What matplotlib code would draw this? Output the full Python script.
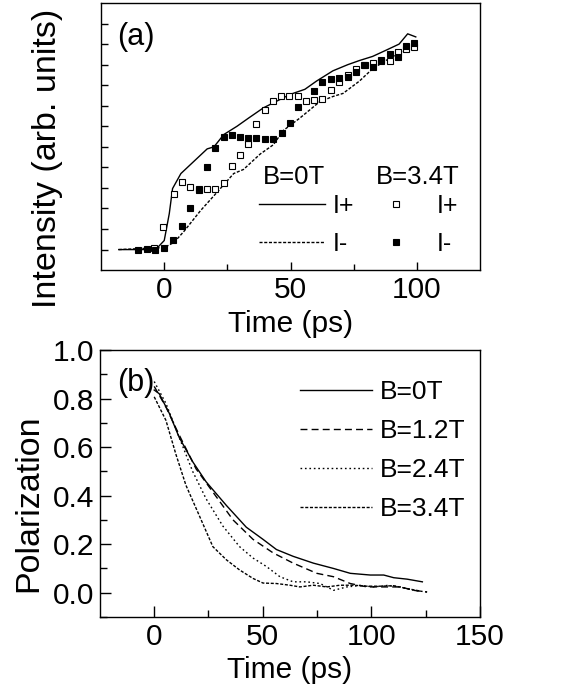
import numpy as np
import matplotlib
matplotlib.use("Agg")
import matplotlib.pyplot as plt
from matplotlib.lines import Line2D

plt.rcParams['font.family'] = ['Liberation Sans', 'DejaVu Sans']

# ------------------------------------------------------------------ #
#  Donnees panneau (a) : intensite, B=0T (lignes) et B=3.4T (carres)   #
# ------------------------------------------------------------------ #
t_plus_0T = [-18, -3.4, 0, 2, 3.3, 6.6, 11.8, 17, 19.7, 23.6, 28.8, 33.4, 39.3,
             45.8, 49.8, 55.7, 60.3, 66.8, 72.7, 77.3, 82.5, 87.8, 93, 96.4, 99.6]
i_plus_0T = [0, 0, 0.44, 1.75, 2.97, 3.7, 4.3, 4.9, 5.0, 5.6, 6.0, 6.4, 6.9,
             7.3, 7.55, 7.8, 8.2, 8.7, 9.0, 9.2, 9.4, 9.7, 10.0, 10.5, 10.35]

t_minus_0T = [-18, 0, 3.9, 7.9, 14.4, 21, 27.5, 31.4, 38, 43.2, 47.2, 53.7,
              61.6, 66.8, 70.8, 77.3, 82.5, 89.1, 94.3, 99.6]
i_minus_0T = [0, 0.1, 0.35, 0.9, 1.9, 2.8, 3.7, 3.9, 4.65, 5.1, 5.8, 6.4,
              7.2, 7.45, 7.6, 8.2, 8.8, 9.3, 9.6, 9.9]

t_plus_34T = [-4, -0.3, 3.7, 7.1, 10.4, 13.9, 16.9, 20.2, 23.5, 26.7, 30, 33.3,
              36.5, 39.8, 43.1, 46.3, 49.6, 52.8, 56.1, 59.4, 62.6, 66.2, 69.4,
              72.7, 76, 79.2, 82.5, 86, 89.3, 92.5, 95.8, 99.1]
i_plus_34T = [0.1, 1.09, 2.7, 3.3, 3.05, 2.95, 2.95, 2.95, 3.25, 4.05, 4.6, 5.15,
              6.1, 6.8, 7.25, 7.45, 7.45, 7.45, 7.25, 7.3, 7.35, 7.75, 8.15,
              8.5, 8.8, 9.0, 9.1, 9.25, 9.2, 9.6, 9.75, 9.85]

t_minus_34T = [-10.2, -6.9, -3.6, 0, 3.5, 6.9, 10.3, 13.6, 17.1, 20.2, 23.5, 26.7,
               30, 33.3, 36.5, 39.8, 43.1, 46.6, 49.8, 53.1, 59.4, 62.6, 66.2,
               69.4, 72.7, 76, 79.6, 82.7, 86, 89.3, 92.7, 95.8, 99.1]
i_minus_34T = [0, 0.05, 0, 0.1, 0.45, 1.15, 2.0, 2.9, 4.0, 4.95, 5.5, 5.6,
               5.5, 5.45, 5.45, 5.4, 5.4, 5.65, 6.15, 6.95, 7.7, 8.15, 8.3,
               8.35, 8.4, 8.65, 9.0, 8.9, 9.2, 9.5, 9.35, 9.9, 10.05]

# ------------------------------------------------------------------ #
#  Donnees panneau (b) : polarisation                                  #
# ------------------------------------------------------------------ #
t_p0 = [0, 2.3, 6.9, 11.5, 17.7, 23.9, 33.2, 42.4, 50.1, 56.3, 64, 73.3, 82.6,
        90.3, 99.5, 105.7, 110.3, 116.5, 123.5]
p_0T = [0.835, 0.82, 0.74, 0.64, 0.54, 0.457, 0.36, 0.27, 0.22, 0.178, 0.15,
        0.122, 0.1, 0.08, 0.073, 0.073, 0.062, 0.056, 0.045]

t_p12 = [0, 5.4, 11.5, 19.3, 27, 36.3, 45.5, 54.8, 64, 74.9, 82.6, 90.3, 98,
         105.7, 113.4, 119.5, 125.7]
p_12T = [0.85, 0.765, 0.65, 0.51, 0.415, 0.30, 0.22, 0.164, 0.122, 0.08, 0.066,
         0.038, 0.024, 0.024, 0.024, 0.01, 0.003]

t_p24 = [0, 5.4, 11.5, 17.7, 23.9, 31.6, 39.3, 45.5, 51.7, 57.9, 64, 70.2, 76.4,
         82.6, 88.7, 94.9, 101.1, 107.2, 113.4, 119.5, 125.7]
p_24T = [0.87, 0.78, 0.64, 0.5, 0.387, 0.275, 0.19, 0.143, 0.108, 0.066, 0.045,
         0.045, 0.038, 0.01, 0.024, 0.03, 0.024, 0.03, 0.024, 0.01, 0.003]

t_p34 = [0, 5.4, 10, 14.6, 20.8, 27, 33.2, 39.3, 45.5, 50.1, 56.3, 62.5, 67.1,
         73.3, 79.5, 85.6, 91.8, 98, 104.1, 110.3, 116.5, 122.6]
p_34T = [0.807, 0.71, 0.57, 0.443, 0.317, 0.19, 0.136, 0.094, 0.059, 0.04, 0.038,
         0.031, 0.024, 0.031, 0.024, 0.031, 0.031, 0.027, 0.027, 0.029, 0.017, 0.007]

labels_b = ["B=0T", "B=1.2T", "B=2.4T", "B=3.4T"]

# ------------------------------------------------------------------ #
#  Figure                                                              #
# ------------------------------------------------------------------ #
fig = plt.figure(figsize=(5.81, 6.98), dpi=100)
ax1 = fig.add_axes([0.174, 0.613, 0.652, 0.3827])
ax2 = fig.add_axes([0.172, 0.116, 0.654, 0.3826])

lw = 1.0
fine_dash = (0, (2.2, 1.2))
FS_TICK = 21.5

# ── (a) ───────────────────────────────────────────────
ax1.plot(t_plus_0T, i_plus_0T, color='black', lw=lw)
ax1.plot(t_minus_0T, i_minus_0T, color='black', lw=lw, linestyle=fine_dash)
ax1.plot(t_plus_34T, i_plus_34T, linestyle='none', marker='s', ms=4.3,
         mfc='white', mec='black', mew=0.8)
ax1.plot(t_minus_34T, i_minus_34T, linestyle='none', marker='s', ms=4.3,
         mfc='black', mec='black', mew=0.8)

ax1.set_xlim(-25, 125)
ax1.set_ylim(-1, 12)
ax1.set_xticks([0, 50, 100])
ax1.set_xticks([25, 75], minor=True)
ax1.set_yticks(range(12))
ax1.set_yticklabels([])
ax1.tick_params(axis='both', which='both', direction='in', labelsize=FS_TICK, width=1)
ax1.tick_params(axis='x', which='major', length=6, pad=4)
ax1.tick_params(axis='x', which='minor', length=4)
ax1.tick_params(axis='y', length=5)
ax1.set_xlabel("Time (ps)", fontsize=FS_TICK)
ax1.xaxis.set_label_coords(0.5, -0.15)
ax1.set_ylabel("Intensity (arb. units)", fontsize=24.5)
ax1.yaxis.set_label_coords(-0.10, 0.42)
ax1.text(0.042, 0.873, "(a)", transform=ax1.transAxes, fontsize=22, va='center')

h_a = [Line2D([], [], color='black', lw=lw),
       Line2D([], [], color='black', lw=lw, linestyle=fine_dash),
       Line2D([], [], linestyle='none', marker='s', ms=4.3, mfc='white', mec='black', mew=0.8),
       Line2D([], [], linestyle='none', marker='s', ms=4.3, mfc='black', mec='black', mew=0.8)]
ax1.legend(h_a, ["I+", "I-", "I+", "I-"], ncol=2, frameon=False, fontsize=18,
           loc='center', bbox_to_anchor=(0.68, 0.17), borderpad=0,
           handlelength=2.64, handletextpad=0.32, columnspacing=0.34, labelspacing=0.57)
ax1.text(0.51, 0.348, "B=0T", transform=ax1.transAxes, fontsize=18.5, ha='center', va='center')
ax1.text(0.837, 0.348, "B=3.4T", transform=ax1.transAxes, fontsize=18.5, ha='center', va='center')

# ── (b) ───────────────────────────────────────────────
ax2.plot(t_p0, p_0T, color='black', lw=lw, label=labels_b[0])
ax2.plot(t_p12, p_12T, color='black', lw=lw, linestyle=(0, (5, 3)), label=labels_b[1])
ax2.plot(t_p24, p_24T, color='black', lw=lw, linestyle=(0, (1.2, 2)), label=labels_b[2])
ax2.plot(t_p34, p_34T, color='black', lw=lw, linestyle=fine_dash, label=labels_b[3])

ax2.set_xlim(-25, 150)
ax2.set_ylim(-0.1, 1.0)
ax2.set_xticks([0, 50, 100, 150])
ax2.set_xticks([25, 75, 125], minor=True)
ax2.set_yticks(np.arange(0, 1.01, 0.2))
ax2.set_yticks(np.arange(-0.1, 1.0, 0.2), minor=True)
ax2.set_yticklabels(["0.0", "0.2", "0.4", "0.6", "0.8", "1.0"])
ax2.tick_params(axis='both', which='both', direction='in', labelsize=FS_TICK, width=1)
ax2.tick_params(axis='both', which='major', length=8, pad=4)
ax2.tick_params(axis='both', which='minor', length=5)
ax2.set_xlabel("Time (ps)", fontsize=FS_TICK)
ax2.xaxis.set_label_coords(0.5, -0.145)
ax2.set_ylabel("Polarization", fontsize=24.5)
ax2.yaxis.set_label_coords(-0.147, 0.427)
ax2.text(0.045, 0.876, "(b)", transform=ax2.transAxes, fontsize=22, va='center')
ax2.legend(frameon=False, fontsize=19, loc='center', bbox_to_anchor=(0.745, 0.622),
           borderpad=0, handlelength=2.73, handletextpad=0.3, labelspacing=0.57)

for ax in (ax1, ax2):
    for s in ax.spines.values():
        s.set_linewidth(1.0)

fig.savefig("out.png", dpi=100)
